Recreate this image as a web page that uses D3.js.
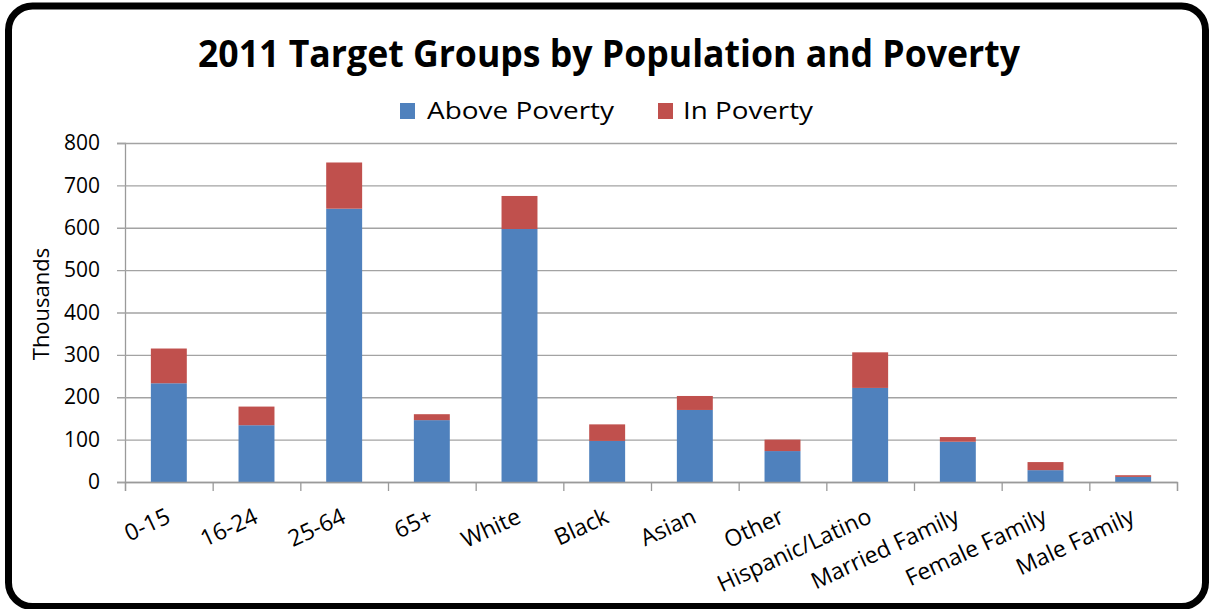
<!DOCTYPE html>
<html>
<head>
<meta charset="utf-8">
<script src="https://cdn.jsdelivr.net/npm/d3@7"></script>
<style>
  html, body { margin: 0; padding: 0; background: #fff; }
  svg { display: block; }
  text { font-family: "Open Sans", "Noto Sans", sans-serif; fill: #000; }
</style>
</head>
<body>
<svg id="chart" width="1209" height="609"></svg>
<script>
// Population groups (thousands), split into above / in poverty
const categories = ["0-15", "16-24", "25-64", "65+", "White", "Black", "Asian", "Other",
  "Hispanic/Latino", "Married Family", "Female Family", "Male Family"];
const abovePoverty = [233, 134, 645, 146, 597, 97, 170, 73, 222, 95, 28, 12];
const inPoverty    = [82, 44, 109, 14, 78, 39, 33, 27, 84, 11, 19, 4];
const seriesNames  = ["Above Poverty", "In Poverty"];
const seriesColors = ["#4f81bd", "#c0504d"];
const yTicks = [0, 100, 200, 300, 400, 500, 600, 700, 800];

const svg = d3.select("#chart");

// Rounded frame
svg.append("rect")
  .attr("x", 8.5).attr("y", 6)
  .attr("width", 1197).attr("height", 600.5)
  .attr("rx", 24).attr("ry", 24)
  .attr("fill", "#fff")
  .attr("stroke", "#000")
  .attr("stroke-width", 7);

const plot = { left: 125, right: 1177, top: 143, bottom: 482 };

const rows = categories.map((c, i) => ({
  category: c, "Above Poverty": abovePoverty[i], "In Poverty": inPoverty[i]
}));
const stacked = d3.stack().keys(seriesNames)(rows);

const x = d3.scaleBand()
  .domain(categories)
  .range([plot.left, plot.right])
  .paddingInner(0.59)
  .paddingOuter(0.295);

const xEdges = d3.scaleLinear()
  .domain([0, categories.length])
  .range([plot.left, plot.right]);

const y = d3.scaleLinear()
  .domain([0, 800])
  .range([plot.bottom, plot.top]);

// Y axis with gridlines
const yAxis = svg.append("g")
  .attr("transform", `translate(${plot.left},0)`)
  .call(d3.axisLeft(y).tickValues(yTicks).tickSize(8).tickPadding(17));
yAxis.select(".domain").attr("stroke", "#9a9a9a").attr("stroke-width", 1.3);
yAxis.selectAll(".tick line")
  .attr("x1", plot.right - plot.left)
  .attr("stroke", "#a3a3a3")
  .attr("stroke-width", 1.3);
yAxis.selectAll(".tick text")
  .style("font-size", "21px")
  .attr("fill", "#000");

// Stacked bars
svg.append("g")
  .selectAll("g")
  .data(stacked)
  .join("g")
  .attr("fill", (d, i) => seriesColors[i])
  .selectAll("rect")
  .data(d => d)
  .join("rect")
  .attr("x", d => x(d.data.category))
  .attr("width", x.bandwidth())
  .attr("y", d => y(d[1]))
  .attr("height", d => y(d[0]) - y(d[1]));

// X axis: boundary ticks
const xTickAxis = svg.append("g")
  .attr("transform", `translate(0,${plot.bottom})`)
  .call(d3.axisBottom(xEdges).tickValues(d3.range(categories.length + 1)).tickFormat("").tickSize(9));
xTickAxis.select(".domain").attr("stroke", "#9a9a9a").attr("stroke-width", 1.3);
xTickAxis.selectAll(".tick line").attr("stroke", "#9a9a9a").attr("stroke-width", 1.3);

// X axis: rotated category labels
const xLabelAxis = svg.append("g")
  .attr("transform", `translate(0,${plot.bottom})`)
  .call(d3.axisBottom(x).tickSize(0).tickPadding(0));
xLabelAxis.select(".domain").remove();
xLabelAxis.selectAll(".tick text")
  .attr("y", 0).attr("dy", 0)
  .attr("text-anchor", "end")
  .attr("transform", "translate(3,40) rotate(-25)")
  .style("font-size", "23px")
  .attr("fill", "#000");

// Y axis title
svg.append("text")
  .attr("transform", "translate(49,304) rotate(-90)")
  .attr("text-anchor", "middle")
  .style("font-size", "22px")
  .text("Thousands");

// Chart title
svg.append("text")
  .attr("x", 198).attr("y", 67)
  .attr("textLength", 822)
  .attr("lengthAdjust", "spacingAndGlyphs")
  .style("font-size", "37px")
  .style("font-weight", "bold")
  .text("2011 Target Groups by Population and Poverty");

// Legend
const legendItems = [
  { name: seriesNames[0], color: seriesColors[0], sx: 400, tx: 427, len: 187 },
  { name: seriesNames[1], color: seriesColors[1], sx: 658, tx: 683, len: 130 }
];
const legend = svg.append("g");
legend.selectAll("rect")
  .data(legendItems)
  .join("rect")
  .attr("x", d => d.sx).attr("y", 103)
  .attr("width", 15).attr("height", 16)
  .attr("fill", d => d.color);
legend.selectAll("text")
  .data(legendItems)
  .join("text")
  .attr("x", d => d.tx).attr("y", 119)
  .attr("textLength", d => d.len)
  .attr("lengthAdjust", "spacingAndGlyphs")
  .style("font-size", "24px")
  .text(d => d.name);
</script>
</body>
</html>
